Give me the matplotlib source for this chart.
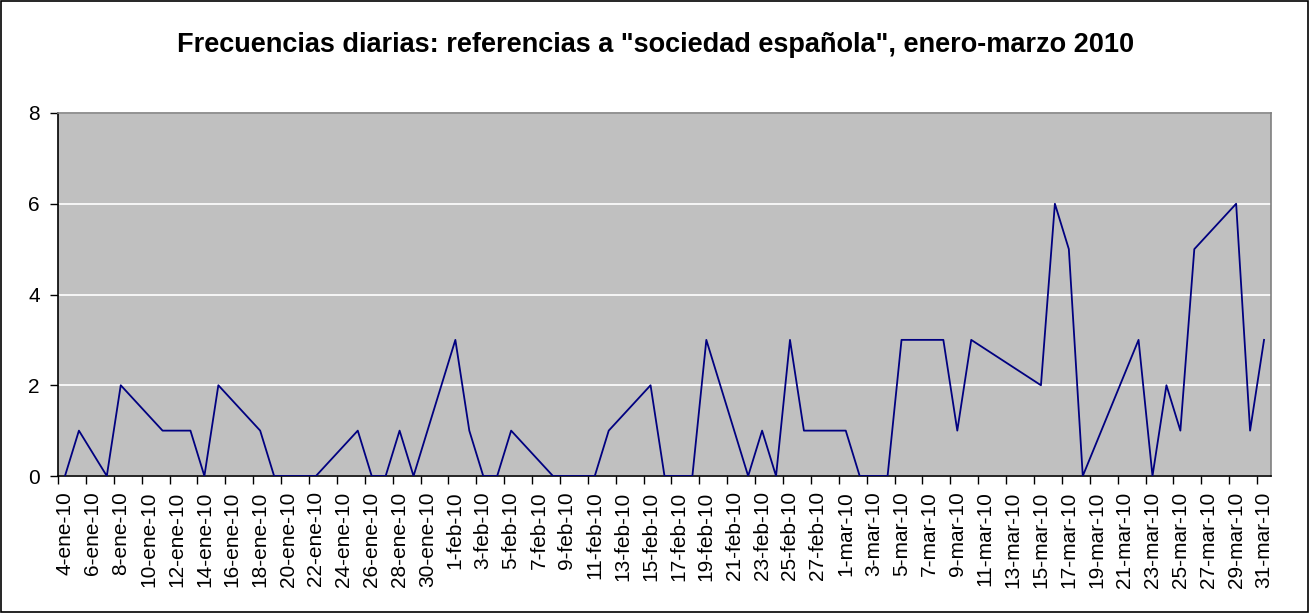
import numpy as np
import pandas as pd
import matplotlib
matplotlib.use("Agg")
import matplotlib.pyplot as plt
import matplotlib.dates as mdates
from matplotlib.patches import Rectangle

plt.rcParams["font.family"] = ["Liberation Sans", "DejaVu Sans"]

# Daily counts (business days only; gaps are joined by the line)
dates = [
    "2010-01-04", "2010-01-05", "2010-01-07", "2010-01-08", "2010-01-11",
    "2010-01-12", "2010-01-13", "2010-01-14", "2010-01-15", "2010-01-18",
    "2010-01-19", "2010-01-20", "2010-01-21", "2010-01-22", "2010-01-25",
    "2010-01-26", "2010-01-27", "2010-01-28", "2010-01-29", "2010-02-01",
    "2010-02-02", "2010-02-03", "2010-02-04", "2010-02-05", "2010-02-08",
    "2010-02-09", "2010-02-10", "2010-02-11", "2010-02-12", "2010-02-15",
    "2010-02-16", "2010-02-17", "2010-02-18", "2010-02-19", "2010-02-22",
    "2010-02-23", "2010-02-24", "2010-02-25", "2010-02-26", "2010-03-01",
    "2010-03-02", "2010-03-03", "2010-03-04", "2010-03-05", "2010-03-08",
    "2010-03-09", "2010-03-10", "2010-03-15", "2010-03-16", "2010-03-17",
    "2010-03-18", "2010-03-22", "2010-03-23", "2010-03-24", "2010-03-25",
    "2010-03-26", "2010-03-29", "2010-03-30", "2010-03-31",
]
counts = [
    0, 1, 0, 2, 1,
    1, 1, 0, 2, 1,
    0, 0, 0, 0, 1,
    0, 0, 1, 0, 3,
    1, 0, 0, 1, 0,
    0, 0, 0, 1, 2,
    0, 0, 0, 3, 0,
    1, 0, 3, 1, 1,
    0, 0, 0, 3, 3,
    1, 3, 2, 6, 5,
    0, 3, 0, 2, 1,
    5, 6, 1, 3,
]

month_names = {1: "ene", 2: "feb", 3: "mar"}
start, end = pd.Timestamp("2010-01-04"), pd.Timestamp("2010-03-31")
label_dates = pd.date_range(start, end, freq="2D")
tick_labels = [f"{d.day}-{month_names[d.month]}-10" for d in label_dates]

title = 'Frecuencias diarias: referencias a "sociedad española", enero-marzo 2010'

x = mdates.date2num(pd.to_datetime(dates))
half = 0.5

fig = plt.figure(figsize=(13.11, 6.13), dpi=100)
fig.patch.set_facecolor("white")
fig.patches.append(Rectangle((0.001, 0.002), 0.997, 0.996, transform=fig.transFigure,
                             fill=False, edgecolor="black", linewidth=1.2))

ax = fig.add_axes([58 / 1311, 137 / 613, 1213 / 1311, 363 / 613])
ax.set_facecolor("#C0C0C0")

ax.plot(x, counts, color="#000080", linewidth=1.3, zorder=3)

ax.set_xlim(mdates.date2num(start) - half, mdates.date2num(end) + half)
ax.set_ylim(0, 8)
ax.set_yticks([0, 2, 4, 6, 8])
ax.yaxis.grid(True, color="white", linewidth=1.2)
ax.set_axisbelow(True)

# tick marks between categories, labels centred on the days
ax.set_xticks(mdates.date2num(label_dates) - half)
ax.set_xticklabels([])
ax.set_xticks(mdates.date2num(label_dates), minor=True)
ax.set_xticklabels(tick_labels, minor=True, rotation=90, fontsize=15)
ax.tick_params(axis="x", which="minor", length=0, pad=11)
ax.tick_params(axis="x", which="major", direction="out", length=6, width=1, color="black")
ax.tick_params(axis="y", direction="out", length=6, width=1, labelsize=15, pad=7)

for side in ["left", "bottom"]:
    ax.spines[side].set_color("black")
    ax.spines[side].set_linewidth(1.2)
for side in ["top", "right"]:
    ax.spines[side].set_color("#808080")
    ax.spines[side].set_linewidth(1.2)

fig.text(0.5, 1 - 45 / 613, title, ha="center", va="center",
         fontsize=19.5, fontweight="bold")

fig.savefig("out.png", dpi=100)
